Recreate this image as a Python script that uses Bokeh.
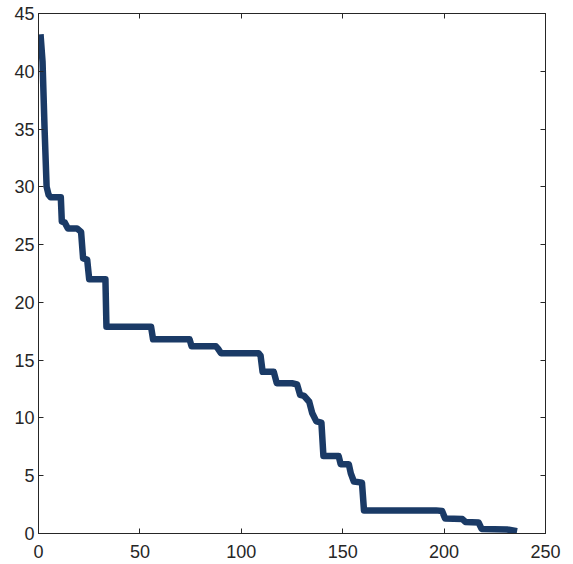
from bokeh.plotting import figure
from bokeh.models import LinearAxis, Range1d, FixedTicker
from bokeh.embed import file_html
from bokeh.resources import INLINE

# Sorted values (descending), by rank
rank = [1, 2, 3, 4, 5, 6, 11, 11.5, 13, 14.5, 19, 21, 22, 24, 25, 33, 33.5,
        55.5, 56.5, 74.5, 75.5, 87.5, 88.5, 90, 108.5, 109.5, 110.5, 116,
        117.5, 125, 127.5, 129, 131, 133.5, 135, 137, 139.5, 140.5, 148, 149,
        153, 154, 155.5, 159.5, 160.5, 196, 199, 200.5, 209, 210.5, 217,
        218.5, 231, 236]
value = [43.2, 40.8, 35.0, 30.0, 29.3, 29.1, 29.1, 27.0, 26.9, 26.4, 26.4,
         26.1, 23.8, 23.7, 22.0, 22.0, 17.9, 17.9, 16.8, 16.8, 16.2, 16.2,
         16.0, 15.6, 15.6, 15.4, 14.0, 14.0, 13.0, 13.0, 12.9, 12.0, 11.9,
         11.4, 10.4, 9.7, 9.6, 6.7, 6.7, 6.0, 6.0, 5.2, 4.5, 4.4, 2.0, 2.0,
         1.95, 1.3, 1.25, 1.0, 0.95, 0.4, 0.35, 0.2]

x_ticks = [0, 50, 100, 150, 200, 250]
y_ticks = [0, 5, 10, 15, 20, 25, 30, 35, 40, 45]

INK = "#262626"
FONT = "Liberation Sans"

p = figure(width=573, height=564, output_backend="svg", toolbar_location=None,
           x_range=Range1d(0, 250), y_range=Range1d(0, 45),
           min_border_left=38, min_border_right=28,
           min_border_top=13, min_border_bottom=31,
           background_fill_color="white", border_fill_color="white")
p.grid.visible = False
p.outline_line_color = INK
p.outline_line_width = 1

p.line(rank, value, line_width=6.5, line_color="#1a3a66", line_join="round")

def style(ax, ticks, show_labels, standoff):
    ax.ticker = FixedTicker(ticks=ticks)
    ax.axis_line_color = INK
    ax.major_tick_line_color = INK
    ax.minor_tick_line_color = None
    ax.major_tick_in = 5
    ax.major_tick_out = 0
    ax.major_label_text_font = FONT
    ax.major_label_text_color = INK
    if show_labels:
        ax.major_label_text_font_size = "18px"
        ax.major_label_standoff = standoff
    else:
        ax.major_label_text_font_size = "0px"
        ax.major_label_standoff = 0
        ax.major_label_text_alpha = 0

style(p.xaxis[0], x_ticks, True, 11)
style(p.yaxis[0], y_ticks, True, 4)

top = LinearAxis()
style(top, x_ticks, False, 0)
p.add_layout(top, "above")
right = LinearAxis()
style(right, y_ticks, False, 0)
p.add_layout(right, "right")

open("out.html", "w").write(file_html(p, INLINE))
